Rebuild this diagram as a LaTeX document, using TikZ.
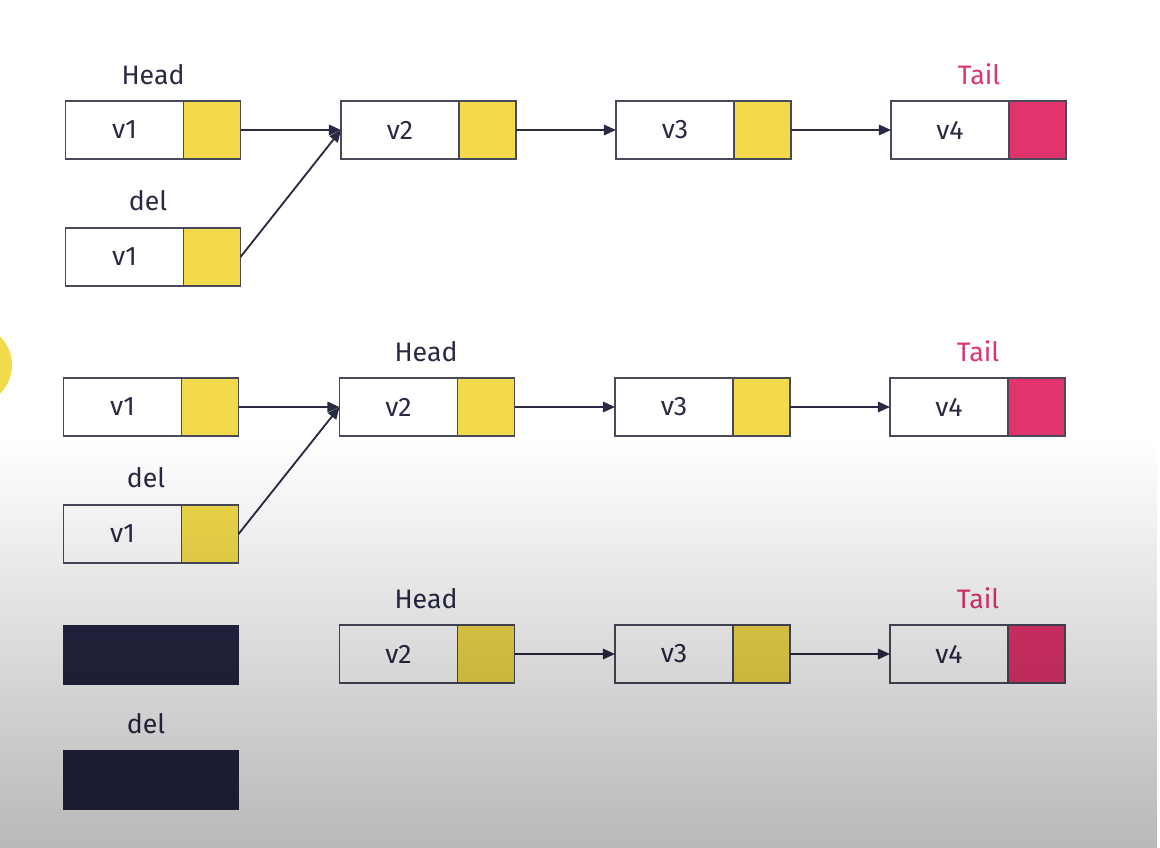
\documentclass[tikz,border=0pt]{standalone}
\usepackage{fontspec}
\setmainfont{Fira Sans}
\usetikzlibrary{positioning,arrows.meta,fadings}
\definecolor{ink}{RGB}{40,42,68}
\definecolor{edge}{RGB}{72,74,92}
\definecolor{lemon}{RGB}{243,218,75}
\definecolor{rose}{RGB}{226,52,108}
\definecolor{navy}{RGB}{36,38,66}
\tikzfading[name=dimup, top color=transparent!100, bottom color=transparent!0]
\begin{document}
\begin{tikzpicture}[x=0.025cm,y=-0.025cm,
    val/.style={draw=edge,line width=1.2pt,fill=white,outer sep=0pt,minimum width=2.95cm,minimum height=1.45cm,text=ink,font=\fontsize{19}{22}\selectfont},
    ptr/.style={draw=edge,line width=1.2pt,fill=lemon,outer sep=0pt,minimum width=1.425cm,minimum height=1.45cm},
    lbl/.style={text=ink,anchor=base,font=\fontsize{19}{22}\selectfont},
    gone/.style={fill=navy,minimum width=4.4cm,minimum height=1.5cm},
    link/.style={draw=ink,line width=1.3pt,-{Triangle[length=3mm,width=2.6mm]}}]
    \useasboundingbox (0,0) rectangle (1160,848);
    \fill[white] (0,0) rectangle (1160,848);
    \fill[lemon] (-28,365) circle[radius=1cm];

    % first state
    \node[val] (a1) at (124.5,130) {v1};
    \node[ptr,right=0pt of a1] (a1p) {};
    \node[val] (a2) at (400,130) {v2};
    \node[ptr,right=0pt of a2] (a2p) {};
    \node[val] (a3) at (675,130) {v3};
    \node[ptr,right=0pt of a3] (a3p) {};
    \node[val] (a4) at (950,130) {v4};
    \node[ptr,fill=rose,right=0pt of a4] (a4p) {};
    \node[val] (ad) at (124.5,257) {v1};
    \node[ptr,right=0pt of ad] (adp) {};
    \node[lbl] (ahead) at (153,84) {Head};
    \node[lbl] (adel) at (148,210) {del};
    \node[lbl,text=rose] (atail) at (979,84) {Tail};
    \draw[link] (a1p) -- (a2);
    \draw[link] (adp.east) -- (a2.west);
    \draw[link] (a2p) -- (a3);
    \draw[link] (a3p) -- (a4);

    % second state
    \node[val] (b1) at (122.5,407) {v1};
    \node[ptr,right=0pt of b1] (b1p) {};
    \node[val] (b2) at (398.5,407) {v2};
    \node[ptr,right=0pt of b2] (b2p) {};
    \node[val] (b3) at (674,407) {v3};
    \node[ptr,right=0pt of b3] (b3p) {};
    \node[val] (b4) at (949,407) {v4};
    \node[ptr,fill=rose,right=0pt of b4] (b4p) {};
    \node[val] (bd) at (122.5,534) {v1};
    \node[ptr,right=0pt of bd] (bdp) {};
    \node[lbl] (bhead) at (426,361) {Head};
    \node[lbl] (bdel) at (146,487) {del};
    \node[lbl,text=rose] (btail) at (978,361) {Tail};
    \draw[link] (b1p) -- (b2);
    \draw[link] (bdp.east) -- (b2.west);
    \draw[link] (b2p) -- (b3);
    \draw[link] (b3p) -- (b4);

    % third state
    \node[gone] (c1) at (151,655) {};
    \node[gone] (cd) at (151,780) {};
    \node[val] (c2) at (398.5,654) {v2};
    \node[ptr,right=0pt of c2] (c2p) {};
    \node[val] (c3) at (674,654) {v3};
    \node[ptr,right=0pt of c3] (c3p) {};
    \node[val] (c4) at (949,654) {v4};
    \node[ptr,fill=rose,right=0pt of c4] (c4p) {};
    \node[lbl] (chead) at (426,608) {Head};
    \node[lbl] (cdel) at (146,733) {del};
    \node[lbl,text=rose] (ctail) at (978,608) {Tail};
    \draw[link] (c2p) -- (c3);
    \draw[link] (c3p) -- (c4);

    \fill[black,fill opacity=0.28,path fading=dimup] (0,440) rectangle (1160,848);
\end{tikzpicture}
\end{document}
